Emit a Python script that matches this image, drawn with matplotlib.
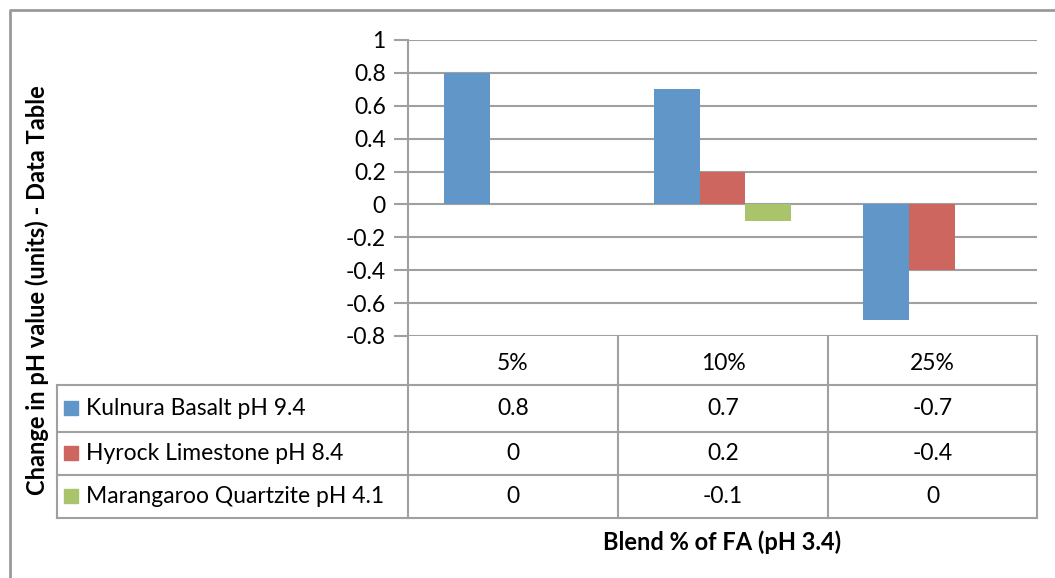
import matplotlib
matplotlib.use('agg')
import matplotlib.pyplot as plt
import numpy as np

# data
categories = ["5%", "10%", "25%"]
series_names = ["Kulnura Basalt pH 9.4", "Hyrock Limestone pH 8.4",
                "Marangaroo Quartzite pH 4.1"]
kulnura = [0.8, 0.7, -0.7]
hyrock = [0.0, 0.2, -0.4]
marangaroo = [0.0, -0.1, 0.0]
series_values = [kulnura, hyrock, marangaroo]
series_colors = ["#6096C8", "#CD665F", "#AAC46C"]
y_ticks = [1, 0.8, 0.6, 0.4, 0.2, 0, -0.2, -0.4, -0.6, -0.8]

plt.rcParams['font.family'] = ['Lato', 'DejaVu Sans']
fs = 16.5
fs_bold = 17

W, H = 1055, 578
fig = plt.figure(figsize=(W / 100, H / 100), dpi=100)

# overlay in pixel coords for frame / table
ov = fig.add_axes([0, 0, 1, 1])
ov.set_xlim(0, W)
ov.set_ylim(H, 0)
ov.axis('off')

grid_c = "#A0A0A0"
lw = 1.5

# plot area
px_l, px_r, px_t, px_b = 408, 1037, 40, 336
ax = fig.add_axes([px_l / W, 1 - px_b / H, (px_r - px_l) / W, (px_b - px_t) / H])
ax.set_xlim(-0.5, len(categories) - 0.5)
ax.set_ylim(-0.8, 1.0)
for v in y_ticks:
    ax.axhline(v, color=grid_c, lw=lw, zorder=1)
bw = 0.219
x = np.arange(len(categories))
for i, (vals, col) in enumerate(zip(series_values, series_colors)):
    ax.bar(x + (i - 1) * bw, vals, bw, color=col, zorder=2,
           edgecolor='none')
ax.set_yticks(y_ticks)
ax.set_yticklabels(["%g" % v for v in y_ticks], fontsize=fs)
ax.set_xticks([])
for s in ['top', 'right', 'bottom']:
    ax.spines[s].set_visible(False)
ax.spines['left'].set_color(grid_c)
ax.spines['left'].set_linewidth(lw)
ax.tick_params(axis='y', length=10, width=lw, color=grid_c, pad=6)
ax.patch.set_alpha(0)

# outer frame
ov.plot([10, 10, W + 5], [H + 5, 10, 10], color="#9A9A9A", lw=2)

# data table
col_edges = [408, 618, 828, 1037]
row_edges = [336, 385, 432, 475, 518]
left_x = 57
ov.plot([col_edges[0], col_edges[0]], [px_b, row_edges[-1]], color=grid_c, lw=lw)
for cx in col_edges[1:]:
    ov.plot([cx, cx], [row_edges[0], row_edges[-1]], color=grid_c, lw=lw)
ov.plot([left_x, left_x], [row_edges[1], row_edges[-1]], color=grid_c, lw=lw)
for ry in row_edges[1:]:
    ov.plot([left_x, col_edges[-1]], [ry, ry], color=grid_c, lw=lw)

for j, cat in enumerate(categories):
    cxm = (col_edges[j] + col_edges[j + 1]) / 2
    ov.text(cxm, (row_edges[0] + row_edges[1]) / 2 + 3, cat, ha='center',
            va='center', fontsize=fs)
for i, (name, vals, col) in enumerate(zip(series_names, series_values, series_colors)):
    ym = (row_edges[i + 1] + row_edges[i + 2]) / 2
    ov.add_patch(plt.Rectangle((64, ym - 8), 14, 14, color=col))
    ov.text(86, ym, name, ha='left', va='center', fontsize=fs)
    for j, v in enumerate(vals):
        cxm = (col_edges[j] + col_edges[j + 1]) / 2
        ov.text(cxm, ym, "%g" % v, ha='center', va='center', fontsize=fs)

ov.text(37, 290, "Change in pH value (units) - Data Table", rotation=90,
        ha='center', va='center', fontsize=fs_bold, fontweight='bold')
ov.text(722, 542, "Blend % of FA (pH 3.4)", ha='center', va='center',
        fontsize=fs_bold, fontweight='bold')

fig.savefig("out.png", dpi=100)
